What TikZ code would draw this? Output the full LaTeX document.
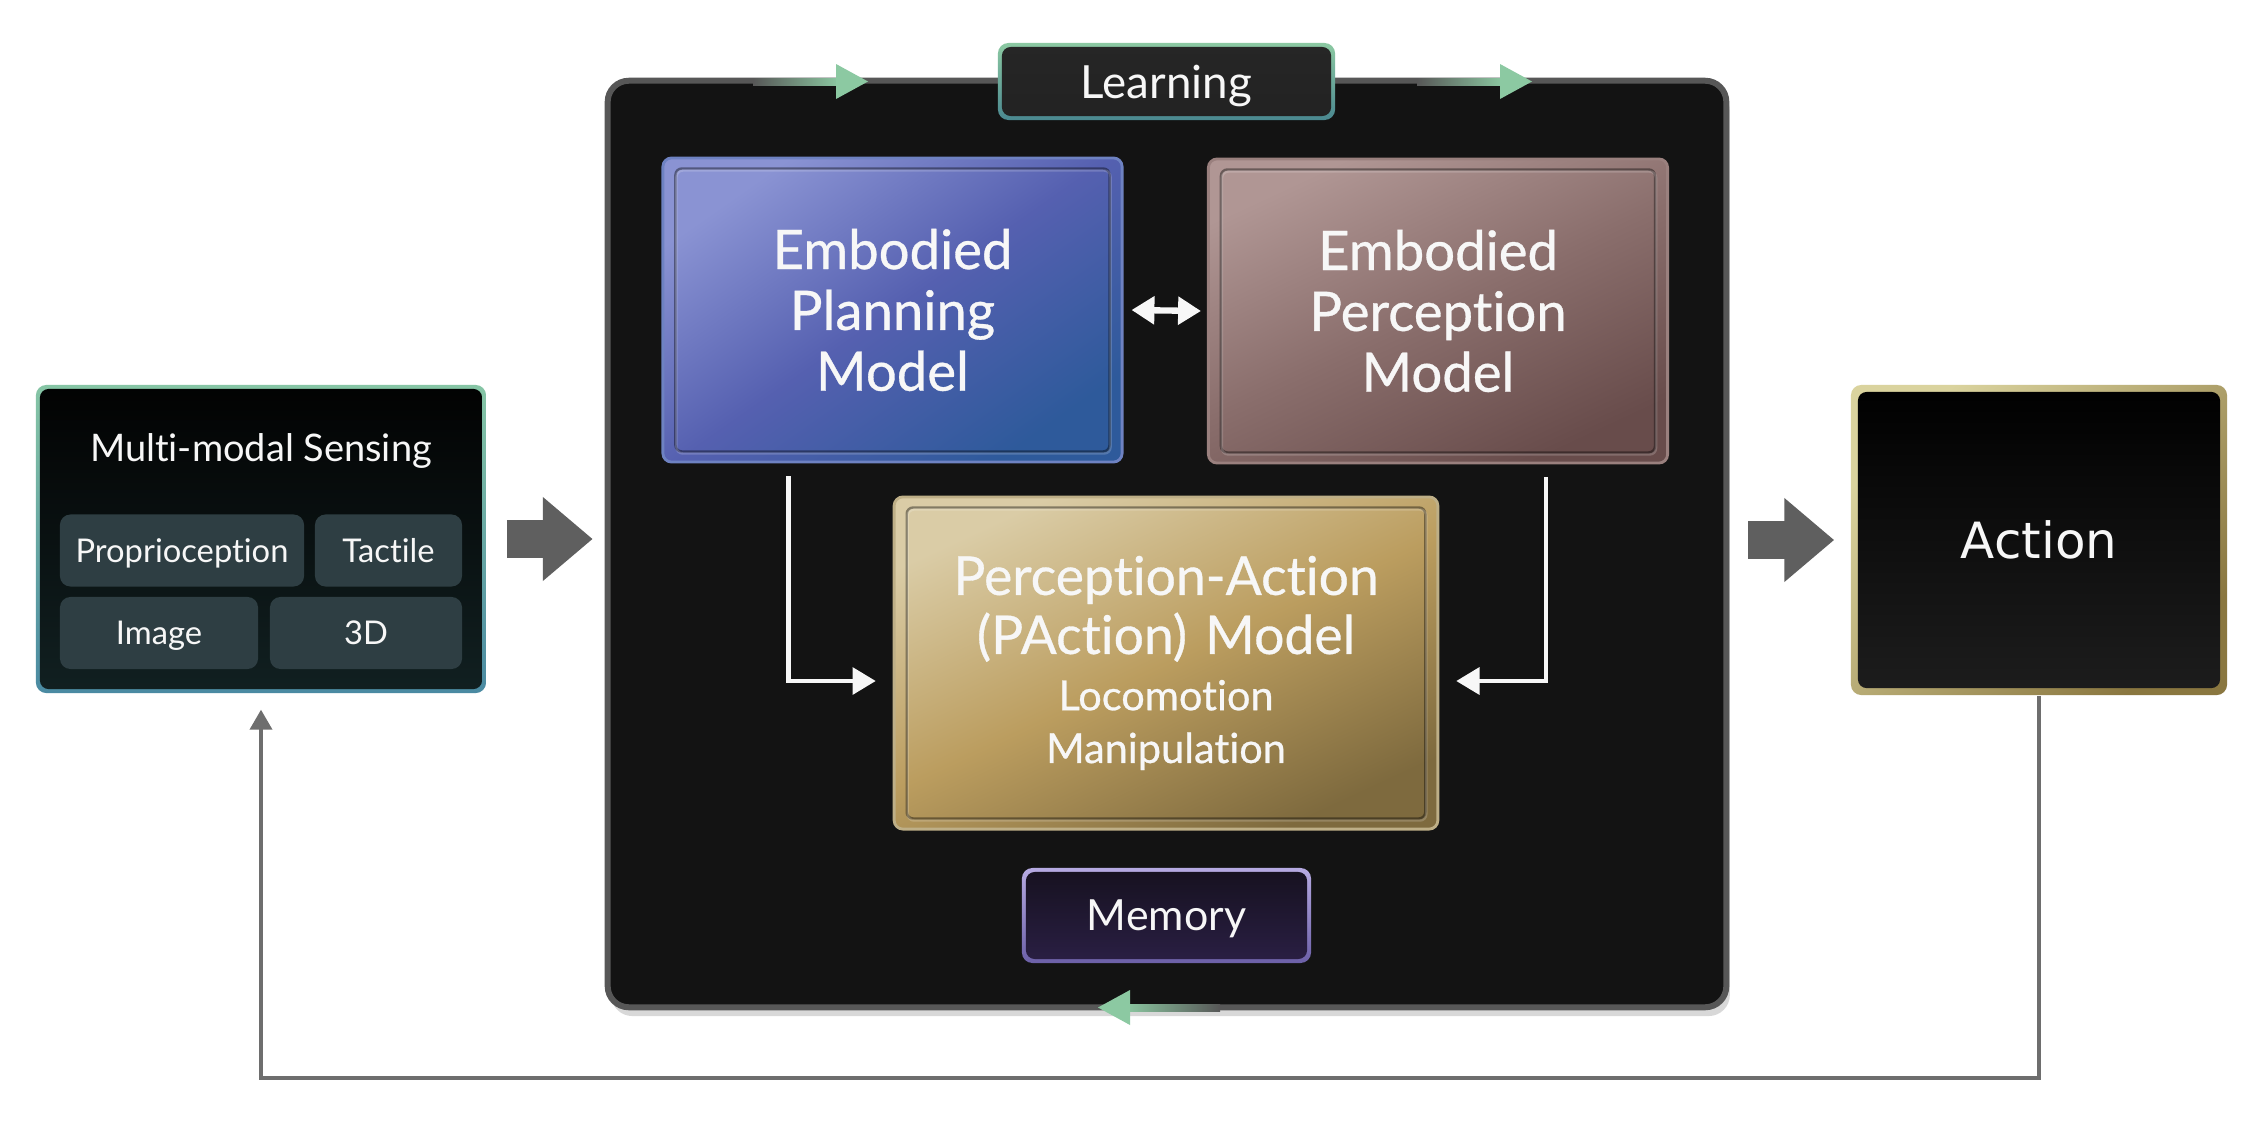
\documentclass[tikz,border=0pt]{standalone}
\usepackage{fontspec}
\setmainfont{Lato}[Ligatures=NoCommon]
\newfontfamily\headfont{Lato}[Ligatures=NoCommon,FakeBold=0.6]
\newfontfamily\actfont{DejaVu Sans}
\usetikzlibrary{arrows.meta,calc,shadows}

\definecolor{panelbg}{HTML}{131313}
\definecolor{panelrim}{HTML}{575757}
\definecolor{leafgreen}{HTML}{8CC9A2}
\definecolor{learnteal}{HTML}{4A8890}
\definecolor{learnbg}{HTML}{262626}
\definecolor{planA}{HTML}{8A93D3}
\definecolor{planB}{HTML}{5560B0}
\definecolor{planC}{HTML}{2E5A9B}
\definecolor{percA}{HTML}{B09694}
\definecolor{percB}{HTML}{8A6E6C}
\definecolor{percC}{HTML}{684C4B}
\definecolor{paA}{HTML}{DACCA6}
\definecolor{paB}{HTML}{BB9D5F}
\definecolor{paC}{HTML}{7E6A3E}
\definecolor{memA}{HTML}{B6AAE2}
\definecolor{memB}{HTML}{6C60A8}
\definecolor{membgA}{HTML}{16111F}
\definecolor{membgB}{HTML}{2A1F44}
\definecolor{senseA}{HTML}{86C5A5}
\definecolor{senseB}{HTML}{4A8AA2}
\definecolor{sensebgA}{HTML}{020202}
\definecolor{sensebgB}{HTML}{112021}
\definecolor{subgray}{HTML}{2E3E43}
\definecolor{goldA}{HTML}{DAD39E}
\definecolor{goldB}{HTML}{8A7740}
\definecolor{actbg}{HTML}{1D1D1D}
\definecolor{arrowgray}{HTML}{5F5F5F}
\definecolor{loopgray}{HTML}{6E6E6E}
\definecolor{textwhite}{HTML}{F7F7F7}

\tikzset{
  innerfill/.style n args={3}{path picture={
      \shade[top color=#2,bottom color=#3,rounded corners=2.5pt]
        ([shift={(#1,#1)}]path picture bounding box.north west) rectangle
        ([shift={(-#1,-#1)}]path picture bounding box.south east);}},
  model/.style={rounded corners=2.5pt, text=textwhite, align=center,
      minimum width=4.59cm, minimum height=3.04cm, line width=0.8pt,
      font=\headfont\fontsize{15.5}{17.3}\selectfont},
  bevel/.style={rounded corners=1.8pt, line width=0.7pt},
  tag/.style={rounded corners=3pt, text=textwhite, text depth=0pt, inner sep=0pt},
  subbox/.style={tag, fill=subgray, minimum height=0.72cm, font=\fontsize{9.3}{11}\selectfont},
  whitearrow/.style={draw=textwhite, line width=1.2pt, -{Triangle[length=6.6pt,width=7.6pt]}},
  blockarrow/.style={draw=arrowgray, line width=10.8pt, -{Triangle[length=14.2pt,width=23pt]}},
  looparrow/.style={draw=loopgray, line width=1.2pt, -{Triangle[length=5.7pt,width=6.2pt]}, shorten >=4.5pt},
}

\begin{document}
\begin{tikzpicture}[x=0.01cm, y=-0.01cm]
\fill[white] (0,0) rectangle (2266,1124);
\useasboundingbox (0,0) rectangle (2266,1124);

% central panel
\node[fill=panelbg, draw=panelrim, line width=1.7pt, rounded corners=6pt,
      minimum width=11.18cm, minimum height=9.26cm,
      drop shadow={shadow xshift=1pt, shadow yshift=-2.5pt, opacity=0.3}] (panel) at (1167,544) {};

% learning flow on the rim
\foreach \t in {868,1532} {
  \shade[left color=panelrim, right color=leafgreen] ({\t-115},78) rectangle ({\t-28},85);
  \fill[leafgreen] ({\t-32},64) -- (\t,81.5) -- ({\t-32},99) -- cycle;
}
\shade[left color=leafgreen, right color=panelrim] (1124,1004) rectangle (1220,1011);
\fill[leafgreen] (1098,1007.5) -- (1130,990) -- (1130,1025) -- cycle;

\node[tag, minimum width=3.37cm, minimum height=0.77cm, top color=leafgreen, bottom color=learnteal,
      innerfill={4}{learnbg}{learnbg!90!black}, font=\fontsize{13}{15}\selectfont] (learn) at (1166.5,81.5) {Learning};

% models
\node[model, draw=planA!70!planC, top color=planA, bottom color=planC, middle color=planB, shading angle=35]
     (plan) at (892.5,310) {Embodied\\Planning\\Model};
\node[model, draw=percA!70!percC, top color=percA, bottom color=percC, middle color=percB, shading angle=25]
     (perc) at (1438,311) {Embodied\\Perception\\Model};
\node[model, draw=paA!70!paC, top color=paA, bottom color=paC, middle color=paB, shading angle=25,
      minimum width=5.4cm, minimum height=3.32cm, text width=5.2cm]
     (pa) at (1166,663) {{\fontsize{15.2}{16.8}\selectfont Perception-Action\par (PAction) Model\par}\vspace{1pt}%
       {\fontsize{11.8}{15}\selectfont Locomotion\par Manipulation\par}};
\foreach \m in {plan,perc,pa} {
  \draw[bevel, black, opacity=0.4] ([shift={(14,12)}]\m.north west) rectangle ([shift={(-14,-12)}]\m.south east);
  \draw[bevel, white, opacity=0.18] ([shift={(15,14)}]\m.north west) rectangle ([shift={(-13,-10)}]\m.south east);
}

\node[tag, minimum width=2.89cm, minimum height=0.95cm, top color=memA, bottom color=memB,
      innerfill={4}{membgA}{membgB}, font=\fontsize{12.2}{14}\selectfont] (mem) at (1166.5,915.5) {Memory};

% sensing
\node[tag, minimum width=4.5cm, minimum height=3.08cm, top color=senseA, bottom color=senseB,
      innerfill={4}{sensebgA}{sensebgB}] (sense) at (261,539) {};
\node[text=textwhite, font=\fontsize{10.8}{12}\selectfont] (sensettl) at (261,451) {Multi-modal Sensing};
\node[subbox, minimum width=2.44cm] (prop) at (182,550.5) {Proprioception};
\node[subbox, minimum width=1.47cm] (tact) at (388.5,550.5) {Tactile};
\node[subbox, minimum width=1.98cm] (img) at (159,633) {Image};
\node[subbox, minimum width=1.92cm] (threed) at (366,633) {3D};

% action
\node[tag, minimum width=3.76cm, minimum height=3.1cm, top color=goldA, bottom color=goldB, shading angle=45,
      innerfill={7}{black}{actbg}, font=\actfont\fontsize{14.2}{17}\selectfont] (act) at (2039,540) {Action};

% connectors
\draw[blockarrow] ($(sense.east)+(20,0)$) -- ($(panel.west|-sense.east)+(-12,0)$);
\draw[blockarrow] ($(panel.east|-act.west)+(19,0)$) -- ($(act.west)+(-16,0)$);
\draw[whitearrow] ($(plan.south)+(-104,13)$) |- ($(pa.west)+(-17,18)$);
\draw[whitearrow] ($(perc.south)+(108,13)$) |- ($(pa.east)+(17,18)$);
\draw[whitearrow, line width=1.8pt, {Triangle[length=6.5pt,width=7.7pt]}-{Triangle[length=6.5pt,width=7.7pt]}]
     ($(plan.east)+(8,0)$) -- ($(perc.west)+(-6,0)$);
\draw[looparrow] (act.south) -- ++(0,382) -| (sense.south);
\end{tikzpicture}
\end{document}
